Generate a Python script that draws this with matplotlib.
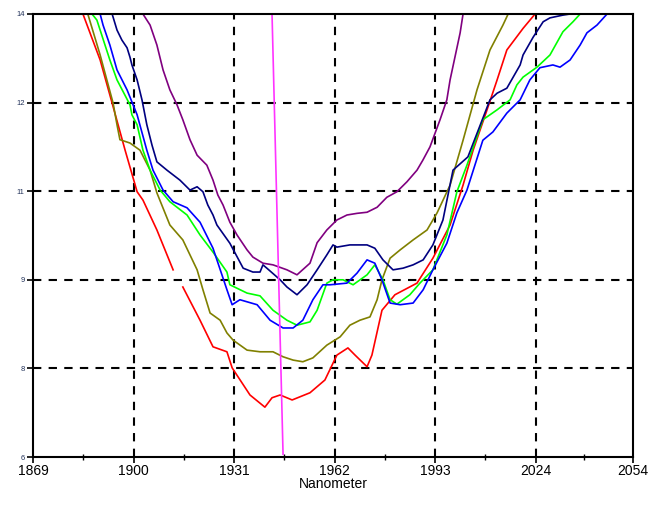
"""
plot.py - six spectral curves against Nanometer with one slanted marker line.
"""
import numpy as np
import matplotlib
matplotlib.use("Agg")
import matplotlib.pyplot as plt
from matplotlib.ticker import FixedLocator

plt.rcParams["font.family"] = ["Liberation Sans", "DejaVu Sans"]

# ---- data ---------------------------------------------------------------
red_x = [1884.4, 1889.7, 1893.4, 1897.4, 1901.1, 1902.9, 1907.2, 1912.2, 1913.7,
         1915.2, 1920.5, 1924.5, 1928.8, 1930.4, 1935.9, 1940.5, 1942.7, 1945.2,
         1948.9, 1954.4, 1959.0, 1962.7, 1966.1, 1968.3, 1972.0, 1973.5, 1976.6,
         1980.6, 1987.4, 1992.3, 1997.6, 2001.6, 2004.7, 2009.0, 2012.1, 2015.1,
         2020.1, 2023.8]
red_y = [14.0, 13.17, 12.39, 11.54, 10.79, 10.64, 10.10, 9.38, np.nan,
         9.07, 8.47, 7.99, 7.90, 7.61, 7.12, 6.90, 7.07, 7.12,
         7.03, 7.16, 7.39, 7.84, 7.97, 7.84, 7.63, 7.84, 8.65,
         8.93, 9.14, 9.59, 10.19, 10.91, 11.54, 12.27, 12.81, 13.35,
         13.74, 14.0]

olive_x = [1885.9, 1889.7, 1893.7, 1894.9, 1895.8, 1898.9, 1902.0, 1905.1, 1907.2,
           1911.2, 1915.2, 1919.6, 1921.4, 1923.6, 1926.7, 1928.8, 1930.7, 1935.0,
           1939.0, 1943.0, 1946.1, 1949.2, 1952.2, 1955.3, 1959.6, 1963.7, 1966.7,
           1969.8, 1972.9, 1975.1, 1976.6, 1979.1, 1982.2, 1986.2, 1990.5, 1993.6,
           1997.6, 2001.6, 2005.9, 2009.9, 2013.9, 2015.5]
olive_y = [14.0, 13.26, 12.39, 12.0, 11.73, 11.67, 11.54, 11.18, 10.77,
           10.19, 9.92, 9.38, 9.02, 8.60, 8.47, 8.24, 8.11, 7.93,
           7.90, 7.90, 7.81, 7.75, 7.72, 7.79, 8.02, 8.17, 8.38,
           8.47, 8.53, 8.84, 9.20, 9.59, 9.74, 9.92, 10.10, 10.41,
           10.91, 11.72, 12.63, 13.35, 13.80, 14.0]

green_x = [1887.2, 1888.7, 1892.7, 1894.9, 1898.9, 1899.5, 1901.1, 1902.9, 1905.1,
           1908.2, 1911.2, 1916.5, 1920.5, 1924.5, 1928.8, 1929.7, 1935.0, 1939.0,
           1943.0, 1947.3, 1950.4, 1954.4, 1956.6, 1959.6, 1961.5, 1964.6, 1967.7,
           1972.0, 1974.4, 1976.9, 1979.1, 1981.2, 1985.2, 1988.3, 1992.3, 1996.6,
           1999.7, 2002.8, 2007.7, 2012.1, 2016.1, 2018.2, 2020.1, 2024.4, 2028.4,
           2032.4, 2035.5, 2037.7]
green_y = [14.0, 13.89, 13.17, 12.81, 12.36, 12.18, 12.0, 11.54, 11.18,
           10.82, 10.61, 10.37, 10.01, 9.70, 9.34, 9.11, 8.96, 8.91,
           8.65, 8.47, 8.38, 8.44, 8.65, 9.14, 9.20, 9.20, 9.11,
           9.29, 9.47, 9.20, 8.84, 8.76, 8.93, 9.14, 9.38, 10.01,
           10.79, 11.27, 12.09, 12.27, 12.45, 12.72, 12.86, 13.04, 13.26,
           13.68, 13.86, 14.0]

blue_x = [1889.7, 1890.6, 1892.7, 1894.9, 1898.0, 1901.1, 1904.1, 1906.0, 1909.1,
          1912.2, 1916.5, 1920.5, 1924.5, 1928.8, 1930.4, 1932.8, 1938.1, 1942.1,
          1946.1, 1949.2, 1952.2, 1955.3, 1958.4, 1960.6, 1965.8, 1968.9, 1972.0,
          1974.4, 1976.6, 1979.1, 1982.2, 1986.2, 1989.3, 1992.3, 1996.6, 1999.7,
          2002.8, 2007.7, 2010.8, 2015.1, 2019.2, 2022.2, 2025.3, 2029.3, 2031.5,
          2034.6, 2037.7, 2039.8, 2042.9, 2046.0]
blue_y = [14.0, 13.80, 13.44, 12.99, 12.63, 12.18, 11.54, 11.18, 10.82,
          10.61, 10.50, 10.24, 9.77, 9.02, 8.75, 8.84, 8.75, 8.47,
          8.33, 8.33, 8.47, 8.84, 9.11, 9.11, 9.14, 9.32, 9.56,
          9.50, 9.20, 8.78, 8.75, 8.78, 9.02, 9.38, 9.86, 10.41,
          10.82, 11.72, 11.87, 12.21, 12.45, 12.81, 13.03, 13.08, 13.04,
          13.17, 13.44, 13.66, 13.80, 14.0]

navy_x = [1893.4, 1894.9, 1896.4, 1898.0, 1898.9, 1899.5, 1901.1, 1902.6, 1904.1,
          1905.7, 1907.2, 1910.3, 1914.3, 1917.4, 1919.6, 1921.4, 1922.9, 1924.5,
          1925.7, 1929.7, 1933.8, 1936.8, 1939.0, 1939.9, 1941.1, 1945.2, 1947.3,
          1950.4, 1953.5, 1956.6, 1959.6, 1961.5, 1962.7, 1966.7, 1972.0, 1974.4,
          1976.9, 1980.0, 1983.1, 1986.2, 1989.3, 1992.3, 1995.4, 1998.5, 2003.1,
          2009.9, 2012.1, 2015.1, 2019.2, 2020.1, 2023.2, 2026.3, 2028.4, 2032.4,
          2034.6]
navy_y = [14.0, 13.71, 13.53, 13.39, 13.22, 13.08, 12.81, 12.45, 12.0,
          11.63, 11.33, 11.18, 11.0, 10.82, 10.88, 10.79, 10.55, 10.37,
          10.19, 9.86, 9.41, 9.34, 9.34, 9.47, 9.41, 9.20, 9.07,
          8.93, 9.11, 9.38, 9.65, 9.83, 9.79, 9.83, 9.83, 9.77,
          9.56, 9.38, 9.41, 9.47, 9.56, 9.83, 10.28, 11.18, 11.42,
          12.45, 12.57, 12.66, 13.08, 13.26, 13.58, 13.86, 13.93, 13.98,
          14.0]

purple_x = [1902.9, 1905.1, 1907.2, 1909.1, 1911.2, 1913.4, 1915.2, 1917.4, 1919.6,
            1922.6, 1924.5, 1926.0, 1927.6, 1929.7, 1931.9, 1935.0, 1936.8, 1939.9,
            1943.0, 1947.3, 1950.4, 1954.4, 1956.6, 1959.6, 1962.7, 1965.8, 1968.9,
            1972.0, 1975.1, 1978.1, 1981.2, 1984.3, 1987.4, 1989.2, 1991.4, 1994.5,
            1996.6, 1997.6, 2000.7, 2001.6]
purple_y = [14.0, 13.80, 13.44, 12.99, 12.63, 12.36, 12.09, 11.73, 11.45,
            11.27, 11.0, 10.73, 10.55, 10.24, 10.01, 9.74, 9.61, 9.50,
            9.47, 9.38, 9.29, 9.50, 9.87, 10.10, 10.28, 10.37, 10.40,
            10.42, 10.51, 10.69, 10.79, 10.97, 11.18, 11.36, 11.60, 12.09,
            12.45, 12.81, 13.66, 14.0]

marker_x = [1942.7, 1946.1]
marker_y = [14.0, 6.05]

x_ticks = [1869, 1900, 1931, 1962, 1993, 2024, 2054]
y_ticks = list(np.linspace(6, 14, 6))

series = [
    (red_x, red_y, "#ff0000"),
    (olive_x, olive_y, "#808000"),
    (green_x, green_y, "#00ff00"),
    (blue_x, blue_y, "#0000ff"),
    (navy_x, navy_y, "#000080"),
    (purple_x, purple_y, "#800080"),
]

# ---- figure --------------------------------------------------------------
fig = plt.figure(figsize=(6.52, 5.05), dpi=100)
ax = fig.add_axes((33 / 652, 1 - 457 / 505, 600 / 652, 443 / 505))

for xs, ys, col in series:
    ax.plot(xs, ys, color=col, lw=1.2, clip_on=True)
ax.plot(marker_x, marker_y, color="#ff33ff", lw=1.2)

ax.set_xlim(1869, 2054)
ax.set_ylim(6, 14)

ax.set_xticks(x_ticks)
ax.xaxis.set_minor_locator(FixedLocator(
    [(a + b) / 2 for a, b in zip(x_ticks[:-1], x_ticks[1:])]))
ax.set_yticks(y_ticks)
ax.set_yticklabels([f"{v:.0f}" for v in y_ticks])

ax.tick_params(axis="x", which="major", direction="inout", length=8,
               width=1.2, labelsize=10, pad=1)
ax.tick_params(axis="x", which="minor", direction="inout", length=5, width=1)
ax.tick_params(axis="y", direction="inout", length=8, width=1.2,
               labelsize=5.5, labelcolor="#22325a", pad=2)

# dashed grid, interior lines only
for xv in x_ticks[1:-1]:
    ax.axvline(xv, color="black", lw=1.5, ls=(0, (4, 3.5)), zorder=0)
for yv in y_ticks[1:-1]:
    ax.axhline(yv, color="black", lw=1.5, ls=(0, (4, 3.5)), zorder=0)

for sp in ax.spines.values():
    sp.set_linewidth(1.5)

ax.set_xlabel("Nanometer", fontsize=10, labelpad=-1)

fig.savefig("out.png", dpi=100)
